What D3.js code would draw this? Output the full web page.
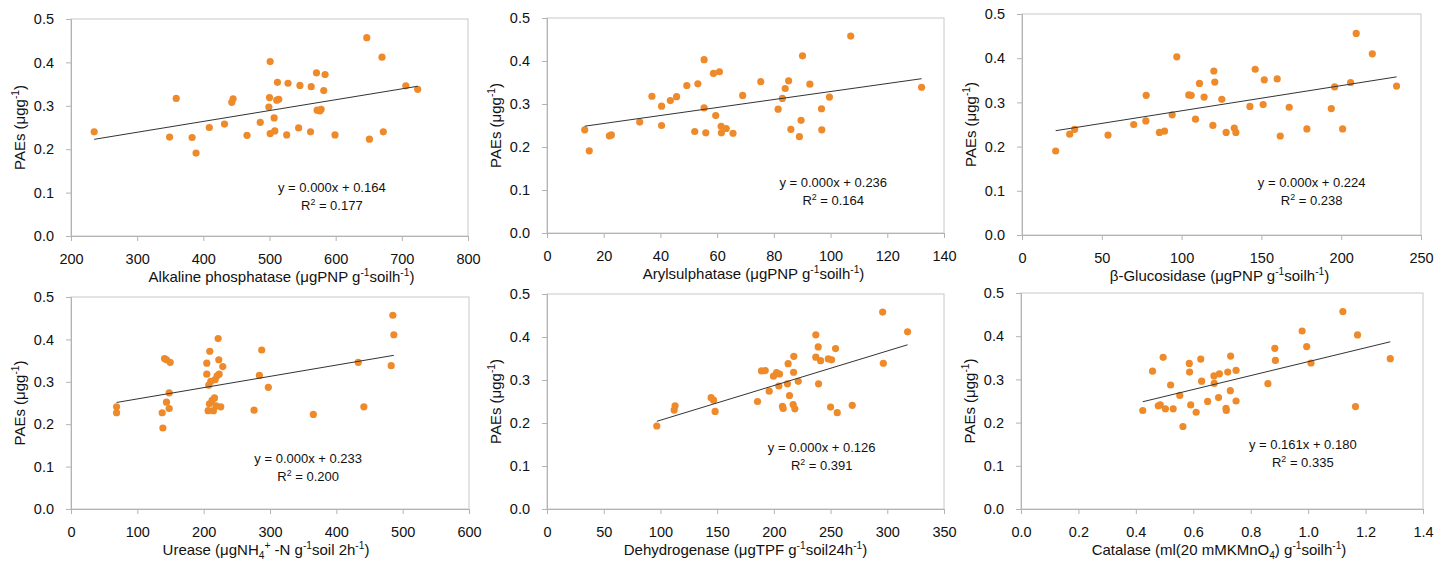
<!DOCTYPE html>
<html>
<head>
<meta charset="utf-8">
<script src="https://cdn.jsdelivr.net/npm/d3@7"></script>
<style>
  body { margin: 0; background: #fff; }
  #display { width: 1450px; height: 561px; }
  text { font-family: Arial, "Liberation Sans", sans-serif; fill: #111; }
</style>
</head>
<body>
<div id="display"></div>
<script>
// PAEs (y) against six soil enzyme activities (x)
const alpX = [235, 349, 359, 383, 389, 409, 432, 443, 445, 466, 486, 499, 500, 501, 501, 507, 508, 512, 511, 514, 526, 528, 544, 546, 562, 563, 571, 572, 576, 578, 582, 584, 599, 647, 651, 670, 672, 706, 724]
const alpY = [0.240, 0.228, 0.317, 0.227, 0.191, 0.250, 0.258, 0.308, 0.316, 0.232, 0.262, 0.297, 0.319, 0.402, 0.236, 0.272, 0.242, 0.354, 0.313, 0.315, 0.233, 0.352, 0.249, 0.347, 0.240, 0.344, 0.376, 0.290, 0.288, 0.292, 0.335, 0.372, 0.233, 0.457, 0.223, 0.412, 0.240, 0.346, 0.338]

const arylX = [13.3, 14.9, 22.0, 22.7, 32.7, 37.0, 40.4, 40.4, 43.5, 45.7, 49.3, 52.1, 53.2, 55.4, 55.4, 56.0, 58.7, 59.5, 60.8, 61.4, 61.5, 63.2, 65.6, 69.0, 75.4, 81.5, 83.0, 84.0, 85.2, 86.0, 89.0, 89.6, 90.1, 92.7, 96.8, 96.9, 99.6, 107.1, 132.1]
const arylY = [0.240, 0.191, 0.226, 0.228, 0.258, 0.318, 0.295, 0.250, 0.308, 0.317, 0.343, 0.236, 0.347, 0.403, 0.291, 0.233, 0.371, 0.273, 0.375, 0.248, 0.233, 0.243, 0.232, 0.320, 0.352, 0.288, 0.313, 0.336, 0.354, 0.241, 0.224, 0.262, 0.412, 0.346, 0.289, 0.240, 0.316, 0.458, 0.339]

const glucX = [21.1, 29.9, 33.0, 53.9, 70.0, 77.8, 77.6, 86.1, 89.3, 94.1, 97.0, 104.5, 106.0, 108.7, 111.2, 114.1, 119.6, 120.2, 120.8, 125.2, 127.9, 133.0, 134.0, 142.8, 146.1, 151.1, 151.8, 159.9, 161.8, 167.4, 178.5, 193.8, 195.9, 200.9, 205.9, 209.4, 219.5, 234.7]
const glucY = [0.190, 0.228, 0.239, 0.226, 0.250, 0.316, 0.258, 0.232, 0.235, 0.272, 0.403, 0.317, 0.316, 0.262, 0.343, 0.312, 0.248, 0.371, 0.346, 0.307, 0.232, 0.242, 0.232, 0.291, 0.375, 0.295, 0.351, 0.353, 0.224, 0.289, 0.240, 0.286, 0.335, 0.240, 0.345, 0.456, 0.410, 0.337]

const ureX = [68.7, 68.7, 137.5, 138.5, 141, 144, 149.5, 144, 148, 148, 204.7, 204.7, 207.7, 209.2, 210.7, 206.7, 208.7, 212.7, 214.7, 216.3, 217.3, 218.8, 220.3, 221.8, 222.8, 223.3, 225.8, 228.8, 276, 284, 287.5, 297.5, 365.3, 433, 441.5, 482.7, 485.2, 486.7]
const ureY = [0.241, 0.227, 0.227, 0.191, 0.355, 0.352, 0.346, 0.252, 0.274, 0.237, 0.344, 0.318, 0.292, 0.372, 0.301, 0.232, 0.248, 0.256, 0.232, 0.262, 0.305, 0.243, 0.314, 0.402, 0.352, 0.318, 0.241, 0.336, 0.233, 0.315, 0.375, 0.287, 0.223, 0.346, 0.241, 0.338, 0.457, 0.411]

const dehX = [96.8, 112.1, 112.9, 144.7, 146.8, 148.2, 185.6, 189.1, 192.4, 195.9, 199.7, 202.4, 205, 204.4, 212, 212.6, 213.8, 207.6, 208.2, 217.4, 217.6, 217, 218.5, 221.5, 237, 237, 239.1, 239.4, 241.2, 248, 250.9, 250, 254.4, 255.9, 269.1, 295.9, 296.5, 317.9]
const dehY = [0.193, 0.230, 0.240, 0.259, 0.253, 0.227, 0.250, 0.321, 0.322, 0.274, 0.309, 0.317, 0.314, 0.286, 0.291, 0.338, 0.264, 0.239, 0.234, 0.318, 0.355, 0.243, 0.233, 0.297, 0.405, 0.353, 0.377, 0.291, 0.345, 0.349, 0.347, 0.237, 0.373, 0.224, 0.241, 0.458, 0.339, 0.412]

const catX = [0.424, 0.458, 0.478, 0.485, 0.495, 0.503, 0.521, 0.530, 0.553, 0.564, 0.586, 0.587, 0.591, 0.610, 0.626, 0.629, 0.650, 0.672, 0.673, 0.688, 0.691, 0.714, 0.715, 0.720, 0.729, 0.730, 0.749, 0.749, 0.860, 0.884, 0.886, 0.979, 0.995, 1.010, 1.121, 1.165, 1.172, 1.286]
const catY = [0.228, 0.319, 0.239, 0.241, 0.351, 0.232, 0.287, 0.232, 0.263, 0.191, 0.337, 0.317, 0.241, 0.224, 0.347, 0.296, 0.249, 0.308, 0.291, 0.258, 0.313, 0.233, 0.228, 0.317, 0.274, 0.354, 0.321, 0.250, 0.290, 0.372, 0.344, 0.412, 0.376, 0.338, 0.457, 0.237, 0.403, 0.348]

// linear trend lines as printed / traced in the figure
const fitSlope = [0.00025, 0.00093, 0.00057, 0.000266, 0.000805, 0.161]
const fitIntercept = [0.164, 0.236, 0.224, 0.233, 0.126, 0.180]
const fitLabel = ["y = 0.000x + 0.164", "y = 0.000x + 0.236", "y = 0.000x + 0.224", "y = 0.000x + 0.233", "y = 0.000x + 0.126", "y = 0.161x + 0.180"]
const r2Label = ["0.177", "0.164", "0.238", "0.200", "0.391", "0.335"]

// axes
const xDomains = [[200, 800], [0, 140], [0, 250], [0, 600], [0, 350], [0, 1.4]]
const xTicks = [
  [200, 300, 400, 500, 600, 700, 800],
  [0, 20, 40, 60, 80, 100, 120, 140],
  [0, 50, 100, 150, 200, 250],
  [0, 100, 200, 300, 400, 500, 600],
  [0, 50, 100, 150, 200, 250, 300, 350],
  [0, 0.2, 0.4, 0.6, 0.8, 1.0, 1.2, 1.4]
]
const yTicks = [0, 0.1, 0.2, 0.3, 0.4, 0.5]
const xTitles = [
  [["Alkaline phosphatase (μgPNP g"], ["-1", "sup"], ["soilh"], ["-1", "sup"], [")"]],
  [["Arylsulphatase (μgPNP g"], ["-1", "sup"], ["soilh"], ["-1", "sup"], [")"]],
  [["β-Glucosidase (μgPNP g"], ["-1", "sup"], ["soilh"], ["-1", "sup"], [")"]],
  [["Urease (μgNH"], ["4", "sub"], ["+", "sup"], [" -N g"], ["-1", "sup"], ["soil 2h"], ["-1", "sup"], [")"]],
  [["Dehydrogenase (μgTPF g"], ["-1", "sup"], ["soil24h"], ["-1", "sup"], [")"]],
  [["Catalase (ml(20 mMKMnO"], ["4", "sub"], [") g"], ["-1", "sup"], ["soilh"], ["-1", "sup"], [")"]]
]
const yTitle = [["PAEs (μgg"], ["-1", "sup"], [")"]]

const xs = [alpX, arylX, glucX, ureX, dehX, catX]
const ys = [alpY, arylY, glucY, ureY, dehY, catY]

function chart(parentNode)
{
  let width = 1450
  let height = 561
  // plot rectangles of the six panels [left, top, right, bottom]
  let boxes = [
    [71, 19, 468, 236], [547, 18, 944, 233], [1022, 14, 1421, 235],
    [71, 297, 469, 509], [547, 294, 944, 509], [1021, 293, 1423, 509]
  ]
  let labelPos = [[0.657, 0.778], [0.721, 0.767], [0.726, 0.763], [0.596, 0.763], [0.692, 0.716], [0.701, 0.703]]
  let titleShift = [12, 8, -2, -4, 0, -3]
  let orange = "#ef8a2b"
  let axisGray = "#b3b3b3"

  const svg = d3.create("svg")
      .attr("width", width)
      .attr("height", height)
      .attr("viewBox", [0, 0, width, height])

  function rich(text, parts, size) {
    let shift = 0
    parts.forEach(([s, kind]) => {
      let target = kind === "sup" ? -size * 0.42 : kind === "sub" ? size * 0.28 : 0
      let t = text.append("tspan").text(s).attr("dy", target - shift)
      if (kind) t.attr("font-size", size * 0.68)
      shift = target
    })
  }

  boxes.forEach(([l, t, r, b], i) => {
    let x = d3.scaleLinear(xDomains[i], [l, r])
    let y = d3.scaleLinear([0, 0.5], [b, t])
    let fmt = i === 5 ? d3.format(".1f") : d3.format("d")
    let g = svg.append("g")

    // frame
    g.append("rect")
      .attr("x", l).attr("y", t)
      .attr("width", r - l).attr("height", b - t)
      .attr("fill", "none")
      .attr("stroke", "#c8c8c8")

    g.append("g")
      .attr("transform", `translate(0,${b})`)
      .call(d3.axisBottom(x).tickValues(xTicks[i]).tickFormat(fmt).tickSize(5).tickPadding(13))
      .call(a => a.select(".domain").attr("stroke", axisGray))
      .call(a => a.selectAll(".tick line").attr("stroke", axisGray))
      .call(a => a.selectAll(".tick text").attr("font-size", 14.5).attr("font-family", null).attr("fill", "#111"))

    g.append("g")
      .attr("transform", `translate(${l},0)`)
      .call(d3.axisLeft(y).tickValues(yTicks).tickFormat(d3.format(".1f")).tickSize(5).tickPadding(12))
      .call(a => a.select(".domain").attr("stroke", axisGray))
      .call(a => a.selectAll(".tick line").attr("stroke", axisGray))
      .call(a => a.selectAll(".tick text").attr("font-size", 14.5).attr("font-family", null).attr("fill", "#111"))

    // points
    g.append("g")
      .attr("fill", orange)
    .selectAll("circle")
    .data(d3.zip(xs[i], ys[i]))
    .join("circle")
      .attr("cx", d => x(d[0]))
      .attr("cy", d => y(d[1]))
      .attr("r", 3.6)

    // trend line across the x range of the data
    let [x0, x1] = d3.extent(xs[i])
    g.append("line")
      .attr("x1", x(x0)).attr("y1", y(fitIntercept[i] + fitSlope[i] * x0))
      .attr("x2", x(x1)).attr("y2", y(fitIntercept[i] + fitSlope[i] * x1))
      .attr("stroke", "#333")
      .attr("stroke-width", 1)

    // equation
    let ex = l + (r - l) * labelPos[i][0]
    let ey = t + (b - t) * labelPos[i][1]
    g.append("text")
      .attr("x", ex).attr("y", ey + 4.5)
      .attr("text-anchor", "middle")
      .attr("font-size", 13)
      .text(fitLabel[i])
    let r2 = g.append("text")
      .attr("x", ex).attr("y", ey + 22.5)
      .attr("text-anchor", "middle")
      .attr("font-size", 13)
    rich(r2, [["R"], ["2", "sup"], [" = " + r2Label[i]]], 13)

    // axis titles
    let xt = g.append("text")
      .attr("x", (l + r) / 2 + titleShift[i]).attr("y", b + 46)
      .attr("text-anchor", "middle")
      .attr("font-size", 15)
    rich(xt, xTitles[i], 15)

    let yt = g.append("text")
      .attr("transform", `translate(${l - 46},${(t + b) / 2}) rotate(-90)`)
      .attr("text-anchor", "middle")
      .attr("font-size", 15)
    rich(yt, yTitle, 15)
  })

  parentNode.appendChild(svg.node())
}

document.addEventListener("DOMContentLoaded", () => {
    chart(document.getElementById("display"));
})
</script>
</body>
</html>
